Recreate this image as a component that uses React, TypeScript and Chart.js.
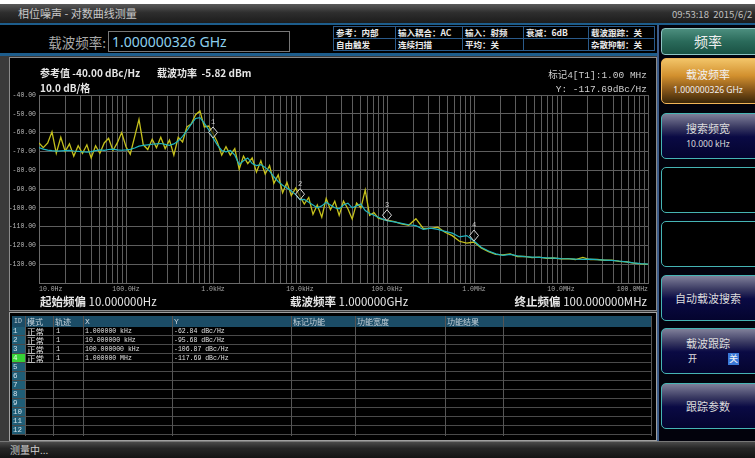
import React, { useEffect, useRef } from 'react';
import { Chart, registerables } from 'chart.js';
Chart.register(...registerables);

// ---------- data ----------
const freqHz = [
  10, 11.2, 12.6, 14.1, 15.8, 17.8, 20, 22.4, 25.1, 28.2, 31.6, 35.5, 39.8, 44.7, 50.1, 56.2, 63.1, 70.8, 79.4, 89.1,
  100, 112, 126, 141, 158, 178, 200, 224, 251, 282, 316, 355, 398, 447, 501, 562, 631, 708, 794, 891,
  1000, 1120, 1260, 1410, 1580, 1780, 2000, 2240, 2510, 2820, 3160, 3550, 3980, 4470, 5010, 5620, 6310, 7080, 7940, 8910,
  10000, 11200, 12600, 14100, 15800, 17800, 20000, 22400, 25100, 28200, 31600, 35500, 39800, 44700, 50100, 56200, 63100, 70800, 79400, 89100,
  100000, 121000, 147000, 178000, 215000, 261000, 316000, 383000, 464000, 562000, 681000, 825000,
  1000000, 1210000, 1470000, 1780000, 2150000, 2610000, 3160000, 3830000, 4640000, 5620000, 6810000, 8250000,
  10000000, 12100000, 14700000, 17800000, 21500000, 26100000, 31600000, 38300000, 46400000, 56200000, 68100000, 82500000, 100000000,
];

const smoothTrace = [
  -68.0, -68.8, -69.3, -69.6, -69.8, -69.7, -69.6, -69.5, -69.8, -70.0, -70.2, -70.4, -70.1, -69.6, -69.2, -69.5, -69.0, -68.8, -69.2, -69.4,
  -69.2, -68.9, -68.2, -67.2, -66.8, -66.5, -66.2, -66.0, -65.8, -66.3, -66.8, -66.0, -64.5, -62.0, -59.0, -55.5, -52.5, -52.0, -55.0, -58.5,
  -62.8, -66.5, -69.5, -70.2, -69.5, -72.0, -77.0, -75.0, -73.5, -76.5, -77.5, -77.0, -78.5, -80.5, -83.5, -86.0, -88.0, -89.5, -91.0, -93.0,
  -95.7, -95.5, -97.0, -98.5, -100.0, -99.0, -97.0, -98.5, -100.0, -100.5, -98.5, -97.5, -100.0, -99.0, -98.0, -101.5, -103.0, -104.0, -105.0, -106.0,
  -106.9, -107.5, -108.3, -109.0, -109.5, -111.5, -110.8, -111.5, -112.5, -113.5, -115.5, -114.8,
  -117.7, -121.0, -123.0, -124.5, -125.3, -124.8, -125.6, -126.0, -126.2, -126.4, -126.6, -126.8,
  -127.0, -127.1, -127.3, -127.4, -127.3, -127.6, -127.8, -128.0, -128.3, -128.8, -129.3, -129.7, -130.0,
];

const rawTrace = [
  -65.5, -68.0, -65.5, -59.6, -71.0, -62.5, -70.0, -66.0, -72.5, -67.0, -71.0, -66.5, -73.5, -67.0, -71.0, -65.5, -63.0, -69.5, -65.5, -60.0,
  -67.5, -71.5, -62.0, -53.0, -66.5, -69.0, -63.5, -68.0, -62.5, -68.5, -64.0, -72.0, -62.5, -65.0, -57.0, -55.5, -50.5, -48.5, -57.0, -56.5,
  -60.5, -65.0, -72.0, -67.5, -72.0, -68.5, -79.5, -72.5, -76.5, -73.5, -81.0, -75.0, -82.0, -77.5, -87.0, -82.5, -92.0, -86.5, -93.5, -89.5,
  -94.0, -98.0, -94.5, -103.5, -98.5, -105.0, -95.0, -101.0, -96.5, -104.0, -96.5, -100.5, -106.0, -97.5, -100.0, -90.5, -104.0, -102.5, -105.5, -106.2,
  -106.5, -107.3, -108.6, -109.3, -105.8, -111.0, -110.9, -110.3, -113.0, -114.8, -117.8, -118.8,
  -118.2, -121.4, -123.3, -124.8, -125.0, -124.5, -125.9, -125.8, -126.5, -126.2, -126.9, -126.7,
  -127.2, -127.0, -127.5, -126.4, -127.5, -127.5, -127.9, -127.8, -128.5, -128.7, -129.4, -129.8, -130.1,
];

const markerIds = ['1', '2', '3', '4'];
const markerFreqs = [1e3, 1e4, 1e5, 1e6];
const markerVals = [-62.84, -95.68, -106.87, -117.69];
const markerXText = ['1.000000 kHz', '10.000000 kHz', '100.000000 kHz', '1.000000 MHz'];

const xMajorTicks = [10, 100, 1e3, 1e4, 1e5, 1e6, 1e7, 1e8];
const xTickLabels = ['10.0Hz', '100.0Hz', '1.0kHz', '10.0kHz', '100.0kHz', '1.0MHz', '10.0MHz', '100.0MHz'];
const xMinorMults = [2, 3, 4, 5, 6, 7, 8, 9];
const yMin = -140;
const yMax = -40;
const yStep = 10;

const infoRow1 = ['参考：内部', '输入耦合：AC', '输入：射频', '衰减：6dB', '载波跟踪：关'];
const infoRow2 = ['自由触发', '连续扫描', '平均：关', '', '杂散抑制：关'];
const infoCols = [333, 395, 462, 523, 588, 655];

const tableHeaders = ['ID', '模式', '轨迹', 'X', 'Y', '标记功能', '功能宽度', '功能结果', ''];
const tableCols = [12, 25, 53, 83, 172, 291, 355, 445, 503, 652];
const tableRowCount = 12;

// ---------- chart ----------
const CJK = '"Noto Sans CJK SC", "Noto Sans", sans-serif';
const MONO = '"Liberation Mono", "Noto Sans CJK SC", monospace';

const markerPlugin = {
  id: 'markerDiamonds',
  afterDatasetsDraw(chart: any) {
    const { ctx, scales } = chart;
    const x = scales.x;
    const y = scales.y;
    ctx.save();
    markerFreqs.forEach((f, i) => {
      const px = x.getPixelForValue(f);
      const py = y.getPixelForValue(markerVals[i]);
      const h = 11;
      const w = 4.5;
      ctx.beginPath();
      ctx.moveTo(px, py - h);
      ctx.lineTo(px + w, py - h / 2);
      ctx.lineTo(px, py);
      ctx.lineTo(px - w, py - h / 2);
      ctx.closePath();
      ctx.fillStyle = 'rgba(0,0,0,0.55)';
      ctx.fill();
      ctx.strokeStyle = '#d8d8d8';
      ctx.lineWidth = 1;
      ctx.stroke();
      ctx.fillStyle = '#cfcfcf';
      ctx.font = '7px ' + MONO;
      ctx.textAlign = 'center';
      ctx.textBaseline = 'bottom';
      ctx.fillText(markerIds[i], px, py - h - 1);
    });
    ctx.restore();
  },
};

function isMajor(v: number) {
  return xMajorTicks.findIndex((m) => Math.abs(Math.log10(v) - Math.log10(m)) < 1e-6);
}

function SpectrumChart() {
  const ref = useRef<HTMLCanvasElement | null>(null);
  useEffect(() => {
    if (!ref.current) return;
    const gridValues: number[] = [];
    xMajorTicks.forEach((d, i) => {
      gridValues.push(d);
      if (i < xMajorTicks.length - 1) xMinorMults.forEach((m) => gridValues.push(d * m));
    });
    const chart = new Chart(ref.current, {
      type: 'line',
      data: {
        datasets: [
          {
            label: 'smooth',
            data: freqHz.map((f, i) => ({ x: f, y: smoothTrace[i] })),
            borderColor: '#20b4c0',
            borderWidth: 1.2,
            pointRadius: 0,
            tension: 0,
          },
          {
            label: 'raw',
            data: freqHz.map((f, i) => ({ x: f, y: rawTrace[i] })),
            borderColor: '#c4c01c',
            borderWidth: 1.3,
            pointRadius: 0,
            tension: 0,
          },
        ],
      },
      options: {
        animation: false,
        responsive: true,
        maintainAspectRatio: false,
        layout: { padding: { left: 0, right: 7, top: 37, bottom: 0 } },
        plugins: { legend: { display: false }, tooltip: { enabled: false } },
        scales: {
          x: {
            type: 'logarithmic',
            min: 10,
            max: 1e8,
            afterBuildTicks: (s: any) => {
              s.ticks = gridValues.map((v) => ({ value: v }));
            },
            afterFit: (s: any) => {
              s.height = 27;
            },
            grid: { color: '#5e5e5e', drawTicks: false, lineWidth: 1 },
            border: { color: '#6a6a6a' },
            ticks: {
              autoSkip: false,
              maxRotation: 0,
              minRotation: 0,
              align: 'inner',
              padding: 2,
              color: '#a8a8a8',
              font: { family: MONO, size: 6.5 },
              callback: (v: any) => {
                const idx = isMajor(Number(v));
                return idx >= 0 ? xTickLabels[idx] : '';
              },
            },
          },
          y: {
            min: yMin,
            max: yMax,
            afterFit: (s: any) => {
              s.width = 29;
            },
            grid: { color: '#5e5e5e', drawTicks: false, lineWidth: 1 },
            border: { color: '#6a6a6a' },
            ticks: {
              stepSize: yStep,
              padding: 3,
              color: '#b8b8b8',
              font: { family: MONO, size: 6.5 },
              callback: (v: any) => (Number(v) === yMin ? '' : Number(v).toFixed(2)),
            },
          },
        },
      } as any,
      plugins: [markerPlugin],
    });
    return () => chart.destroy();
  }, []);
  return (
    <div style={{ position: 'absolute', left: 10, top: 58, width: 645, height: 252 }}>
      <canvas ref={ref} />
    </div>
  );
}

// ---------- layout helpers ----------
function A(props: { x: number; y: number; w?: number; h?: number; style?: any; children?: any }) {
  const { x, y, w, h, style, children } = props;
  return (
    <div style={{ position: 'absolute', left: x, top: y, width: w, height: h, boxSizing: 'border-box', ...style }}>
      {children}
    </div>
  );
}

const navBg = 'linear-gradient(#80809a 0%, #3a3a62 30%, #0a0a44 52%, #04042e 100%)';

function NavButton(props: { y: number; h: number; children?: any; empty?: boolean }) {
  return (
    <A
      x={661}
      y={props.y}
      w={104}
      h={props.h}
      style={{
        border: '1.5px solid #46b4b4',
        borderRadius: 5,
        background: props.empty ? '#000' : navBg,
        color: '#dcdcdc',
        fontFamily: CJK,
        textAlign: 'center',
      }}
    >
      {props.children}
    </A>
  );
}

export default function App() {
  const textW = '#e6e6e6';
  return (
    <div
      style={{
        position: 'absolute',
        left: 0,
        top: 0,
        width: 755,
        height: 458,
        overflow: 'hidden',
        background: '#ffffff',
        fontFamily: CJK,
      }}
    >
      {/* title bar */}
      <A x={0} y={4} w={755} h={19} style={{ background: 'linear-gradient(#5a5a5a, #2e2e2e 45%, #1c1c1c)' }} />
      <A x={18} y={5} h={17} style={{ color: '#c8c8c8', fontSize: 11, lineHeight: '17px', whiteSpace: 'nowrap' }}>
        相位噪声 - 对数曲线测量
      </A>
      <A x={672} y={6} h={16} style={{ color: '#c0c0c0', fontSize: 9.5, lineHeight: '16px', whiteSpace: 'nowrap' }}>
        09:53:18&nbsp;&nbsp;2015/6/2
      </A>
      <A x={0} y={23} w={755} h={2} style={{ background: '#1d5d8c' }} />

      {/* top strip */}
      <A x={0} y={25} w={658} h={28} style={{ background: '#000' }} />
      <A x={0} y={53} w={658} h={3} style={{ background: '#1d5d8c' }} />
      <A x={40} y={32} w={66} h={20} style={{ color: '#a8a8a8', fontSize: 13.5, lineHeight: '20px', textAlign: 'right', whiteSpace: 'nowrap' }}>
        载波频率:
      </A>
      <A x={108} y={31} w={182} h={21} style={{ border: '1px solid #777', background: '#000' }} />
      <A x={112} y={31} h={21} style={{ color: '#8ccfee', fontSize: 14, lineHeight: '21px', whiteSpace: 'nowrap', fontFamily: '"Noto Sans", sans-serif' }}>
        1.000000326 GHz
      </A>
      {/* info table */}
      <A x={333} y={26} w={322} h={25} style={{ border: '1px solid #2a5a8a', background: '#000' }} />
      <A x={333} y={38} w={322} h={1} style={{ background: '#2a5a8a' }} />
      {infoCols.slice(1, -1).map((c) => (
        <A key={'ic' + c} x={c} y={26} w={1} h={25} style={{ background: '#2a5a8a' }} />
      ))}
      {[infoRow1, infoRow2].map((row, r) =>
        row.map((t, i) => (
          <A
            key={'it' + r + i}
            x={infoCols[i] + 3}
            y={26 + r * 12}
            h={12}
            style={{ color: '#eaeaea', fontSize: 8.5, fontWeight: 700, lineHeight: '12px', whiteSpace: 'nowrap' }}
          >
            {t}
          </A>
        ))
      )}

      {/* main gray body */}
      <A x={0} y={56} w={658} h={385} style={{ background: '#3a3a3a' }} />
      {/* chart panel */}
      <A x={9} y={57} w={648} h={254} style={{ background: '#000', border: '1px solid #8a8a8a' }} />
      <SpectrumChart />
      <A x={40} y={66} h={13} style={{ color: textW, fontSize: 10, fontWeight: 700, lineHeight: '13px', whiteSpace: 'nowrap' }}>
        参考值 {yMax.toFixed(2)} dBc/Hz
      </A>
      <A x={157} y={66} h={13} style={{ color: textW, fontSize: 10, fontWeight: 700, lineHeight: '13px', whiteSpace: 'nowrap' }}>
        载波功率&nbsp;&nbsp;-5.82 dBm
      </A>
      <A x={40} y={81} h={13} style={{ color: textW, fontSize: 10, fontWeight: 700, lineHeight: '13px', whiteSpace: 'nowrap' }}>
        {(yStep).toFixed(1)} dB/格
      </A>
      <A x={440} y={69} w={207} h={13} style={{ color: '#cfcfcf', fontSize: 9.5, lineHeight: '13px', textAlign: 'right', whiteSpace: 'nowrap', fontFamily: MONO }}>
        标记4[T1]:1.00 MHz
      </A>
      <A x={440} y={83} w={207} h={13} style={{ color: '#cfcfcf', fontSize: 9.5, lineHeight: '13px', textAlign: 'right', whiteSpace: 'nowrap', fontFamily: MONO }}>
        Y: {markerVals[3].toFixed(2)}dBc/Hz
      </A>
      <A x={40} y={294} h={15} style={{ color: textW, fontSize: 11.5, lineHeight: '15px', whiteSpace: 'nowrap' }}>
        <b>起始频偏</b> 10.000000Hz
      </A>
      <A x={290} y={294} h={15} style={{ color: textW, fontSize: 11.5, lineHeight: '15px', whiteSpace: 'nowrap' }}>
        <b>载波频率</b> 1.000000GHz
      </A>
      <A x={440} y={294} w={207} h={15} style={{ color: textW, fontSize: 11.5, lineHeight: '15px', textAlign: 'right', whiteSpace: 'nowrap' }}>
        <b>终止频偏</b> 100.000000MHz
      </A>

      {/* table panel */}
      <A x={9} y={312} w={648} h={129} style={{ background: '#000', border: '1px solid #a0a0a0' }} />
      <A x={12} y={316} w={640} h={11} style={{ background: '#1b4c66' }} />
      {Array.from({ length: tableRowCount }).map((_, r) => (
        <React.Fragment key={'row' + r}>
          <A x={12} y={327 + r * 9} w={13} h={9} style={{ background: r === 3 ? '#36d236' : '#1f5d76' }} />
          <A x={12} y={327 + r * 9 + 8} w={640} h={1} style={{ background: '#4a4a4a' }} />
          <A x={13} y={327 + r * 9} h={9} style={{ color: r === 3 ? '#eaffea' : '#cfe0ea', fontSize: 7.5, lineHeight: '9px', fontFamily: MONO }}>
            {r + 1}
          </A>
        </React.Fragment>
      ))}
      {tableCols.slice(1, -1).map((c) => (
        <A key={'tc' + c} x={c} y={316} w={1} h={120} style={{ background: '#555' }} />
      ))}
      <A x={651} y={316} w={1} h={120} style={{ background: '#555' }} />
      {tableHeaders.map((t, i) => (
        <A key={'th' + i} x={tableCols[i] + 2} y={316} h={11} style={{ color: '#c8d4dc', fontSize: i === 0 ? 6.5 : 8, lineHeight: '11px', whiteSpace: 'nowrap', fontFamily: i === 0 || i === 3 || i === 4 ? MONO : CJK }}>
          {t}
        </A>
      ))}
      {markerIds.map((id, r) => (
        <React.Fragment key={'md' + id}>
          <A x={tableCols[1] + 2} y={326 + r * 9} h={10} style={{ color: '#e0e0e0', fontSize: 8.5, lineHeight: '10px', whiteSpace: 'nowrap' }}>
            正常
          </A>
          <A x={tableCols[2] + 3} y={327 + r * 9} h={9} style={{ color: '#e0e0e0', fontSize: 7, lineHeight: '9px', fontFamily: MONO }}>
            1
          </A>
          <A x={tableCols[3] + 2} y={327 + r * 9} h={9} style={{ color: '#e0e0e0', fontSize: 6.5, lineHeight: '9px', whiteSpace: 'nowrap', fontFamily: MONO }}>
            {markerXText[r]}
          </A>
          <A x={tableCols[4] + 2} y={327 + r * 9} h={9} style={{ color: '#e0e0e0', fontSize: 6.5, lineHeight: '9px', whiteSpace: 'nowrap', fontFamily: MONO }}>
            {markerVals[r].toFixed(2)} dBc/Hz
          </A>
        </React.Fragment>
      ))}

      {/* status bar */}
      <A x={0} y={441} w={755} h={17} style={{ background: 'linear-gradient(#4a4a4a, #262626 40%, #141414)', borderTop: '1px solid #777' }} />
      <A x={10} y={442} h={16} style={{ color: '#d0d0d0', fontSize: 10, lineHeight: '16px' }}>
        测量中...
      </A>

      {/* right panel */}
      <A x={657} y={25} w={98} h={416} style={{ background: '#02020c' }} />
      <A x={657} y={25} w={2} h={416} style={{ background: '#3d5d8a' }} />
      <A
        x={661}
        y={28}
        w={104}
        h={27}
        style={{
          border: '1px solid #8fc4c4',
          borderRadius: 4,
          background: 'linear-gradient(#4c8e7e, #2a6a5a 50%, #1a5244)',
          color: '#eeeeee',
          fontSize: 14,
          lineHeight: '25px',
          textAlign: 'center',
          paddingRight: 10,
        }}
      >
        频率
      </A>
      <A
        x={661}
        y={58}
        w={104}
        h={46}
        style={{
          border: '1.5px solid #f0b458',
          borderRadius: 5,
          background: 'linear-gradient(#f2c468 0%, #d2902e 38%, #86561a 70%, #3a2608 100%)',
          color: '#f2f2f2',
          textAlign: 'center',
          paddingRight: 10,
        }}
      >
        <div style={{ fontSize: 11, lineHeight: '14px', marginTop: 8 }}>载波频率</div>
        <div style={{ fontSize: 8.5, lineHeight: '12px', marginTop: 3, fontFamily: '"Noto Sans", sans-serif' }}>1.000000326 GHz</div>
      </A>
      <NavButton y={113} h={46}>
        <div style={{ fontSize: 11, lineHeight: '14px', marginTop: 7, paddingRight: 10 }}>搜索频宽</div>
        <div style={{ fontSize: 8.5, lineHeight: '12px', marginTop: 3, paddingRight: 10, fontFamily: '"Noto Sans", sans-serif' }}>10.000 kHz</div>
      </NavButton>
      <NavButton y={167} h={46} empty />
      <NavButton y={221} h={46} empty />
      <NavButton y={275} h={46}>
        <div style={{ fontSize: 11, lineHeight: '14px', marginTop: 15, paddingRight: 10 }}>自动载波搜索</div>
      </NavButton>
      <NavButton y={328} h={46}>
        <div style={{ fontSize: 11, lineHeight: '14px', marginTop: 7, paddingRight: 10 }}>载波跟踪</div>
      </NavButton>
      <A x={688} y={353} h={12} style={{ color: '#e0e0e0', fontSize: 9, lineHeight: '12px' }}>开</A>
      <A x={728} y={353} w={11} h={12} style={{ background: '#3a78d8', color: '#f4f4f4', fontSize: 9, lineHeight: '12px', textAlign: 'center' }}>关</A>
      <NavButton y={383} h={46}>
        <div style={{ fontSize: 11, lineHeight: '14px', marginTop: 15, paddingRight: 10 }}>跟踪参数</div>
      </NavButton>
    </div>
  );
}
